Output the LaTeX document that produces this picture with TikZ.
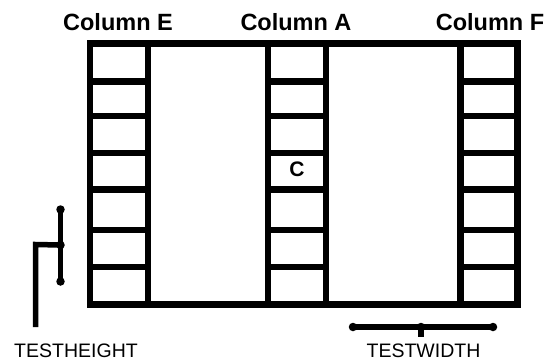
\documentclass[tikz,border=0pt]{standalone}
\usepackage{fontspec}
\setmainfont{Liberation Sans}
\begin{document}
\begin{tikzpicture}[x=1pt,y=-1pt,
  frame/.style={line width=6.3pt},
  bracket/.style={line width=5.5pt},
  dotmark/.style={circle,fill=black,inner sep=0pt,minimum size=8.5pt},
  head/.style={font=\fontsize{23.5}{26}\selectfont\bfseries,anchor=base,inner sep=0pt},
  dim/.style={font=\fontsize{19.5}{22}\selectfont,anchor=base,inner sep=0pt}]
\useasboundingbox (0,0) rectangle (550,360);
% frame
\draw[frame] (90.3,43.5) rectangle (517.5,304.5);
\foreach \x in {148,268,326,460.5}
  \draw[frame] (\x,43.5) -- (\x,304.5);
\foreach \y in {81.5,116,153,189.5,230,267}{
  \draw[frame] (90.3,\y) -- (148,\y);
  \draw[frame] (268,\y) -- (326,\y);
  \draw[frame] (460.5,\y) -- (517.5,\y);
}
% labels
\node[head] (colE) at (118,30) {Column E};
\node[head] (colA) at (296,30) {Column A};
\node[head] (colF) at (490,30) {Column F};
\node[font=\fontsize{21}{24}\selectfont\bfseries,inner sep=0pt] (cC) at (297,169) {C};
% height bracket
\node[dotmark] (ht) at (60.5,209.5) {};
\node[dotmark] (hm) at (60.5,245) {};
\node[dotmark] (hb) at (60.5,281.5) {};
\draw[bracket] (ht.center) -- (hb.center);
\coordinate (hc) at (35.5,244.5);
\coordinate (hd) at (35.5,327);
\draw[bracket] (hm.center) -- (hc) -- (hd);
\node[dim] (th) at (76,357) {TESTHEIGHT};
% width bracket
\node[dotmark] (wl) at (353,327) {};
\node[dotmark] (wm) at (421,327) {};
\node[dotmark] (wr) at (493,327) {};
\draw[bracket] (wl.center) -- (wr.center);
\coordinate (wd) at (421,337);
\draw[line width=6pt] (wm.center) -- (wd);
\node[dim] (tw) at (423.5,357) {TESTWIDTH};
\end{tikzpicture}
\end{document}
